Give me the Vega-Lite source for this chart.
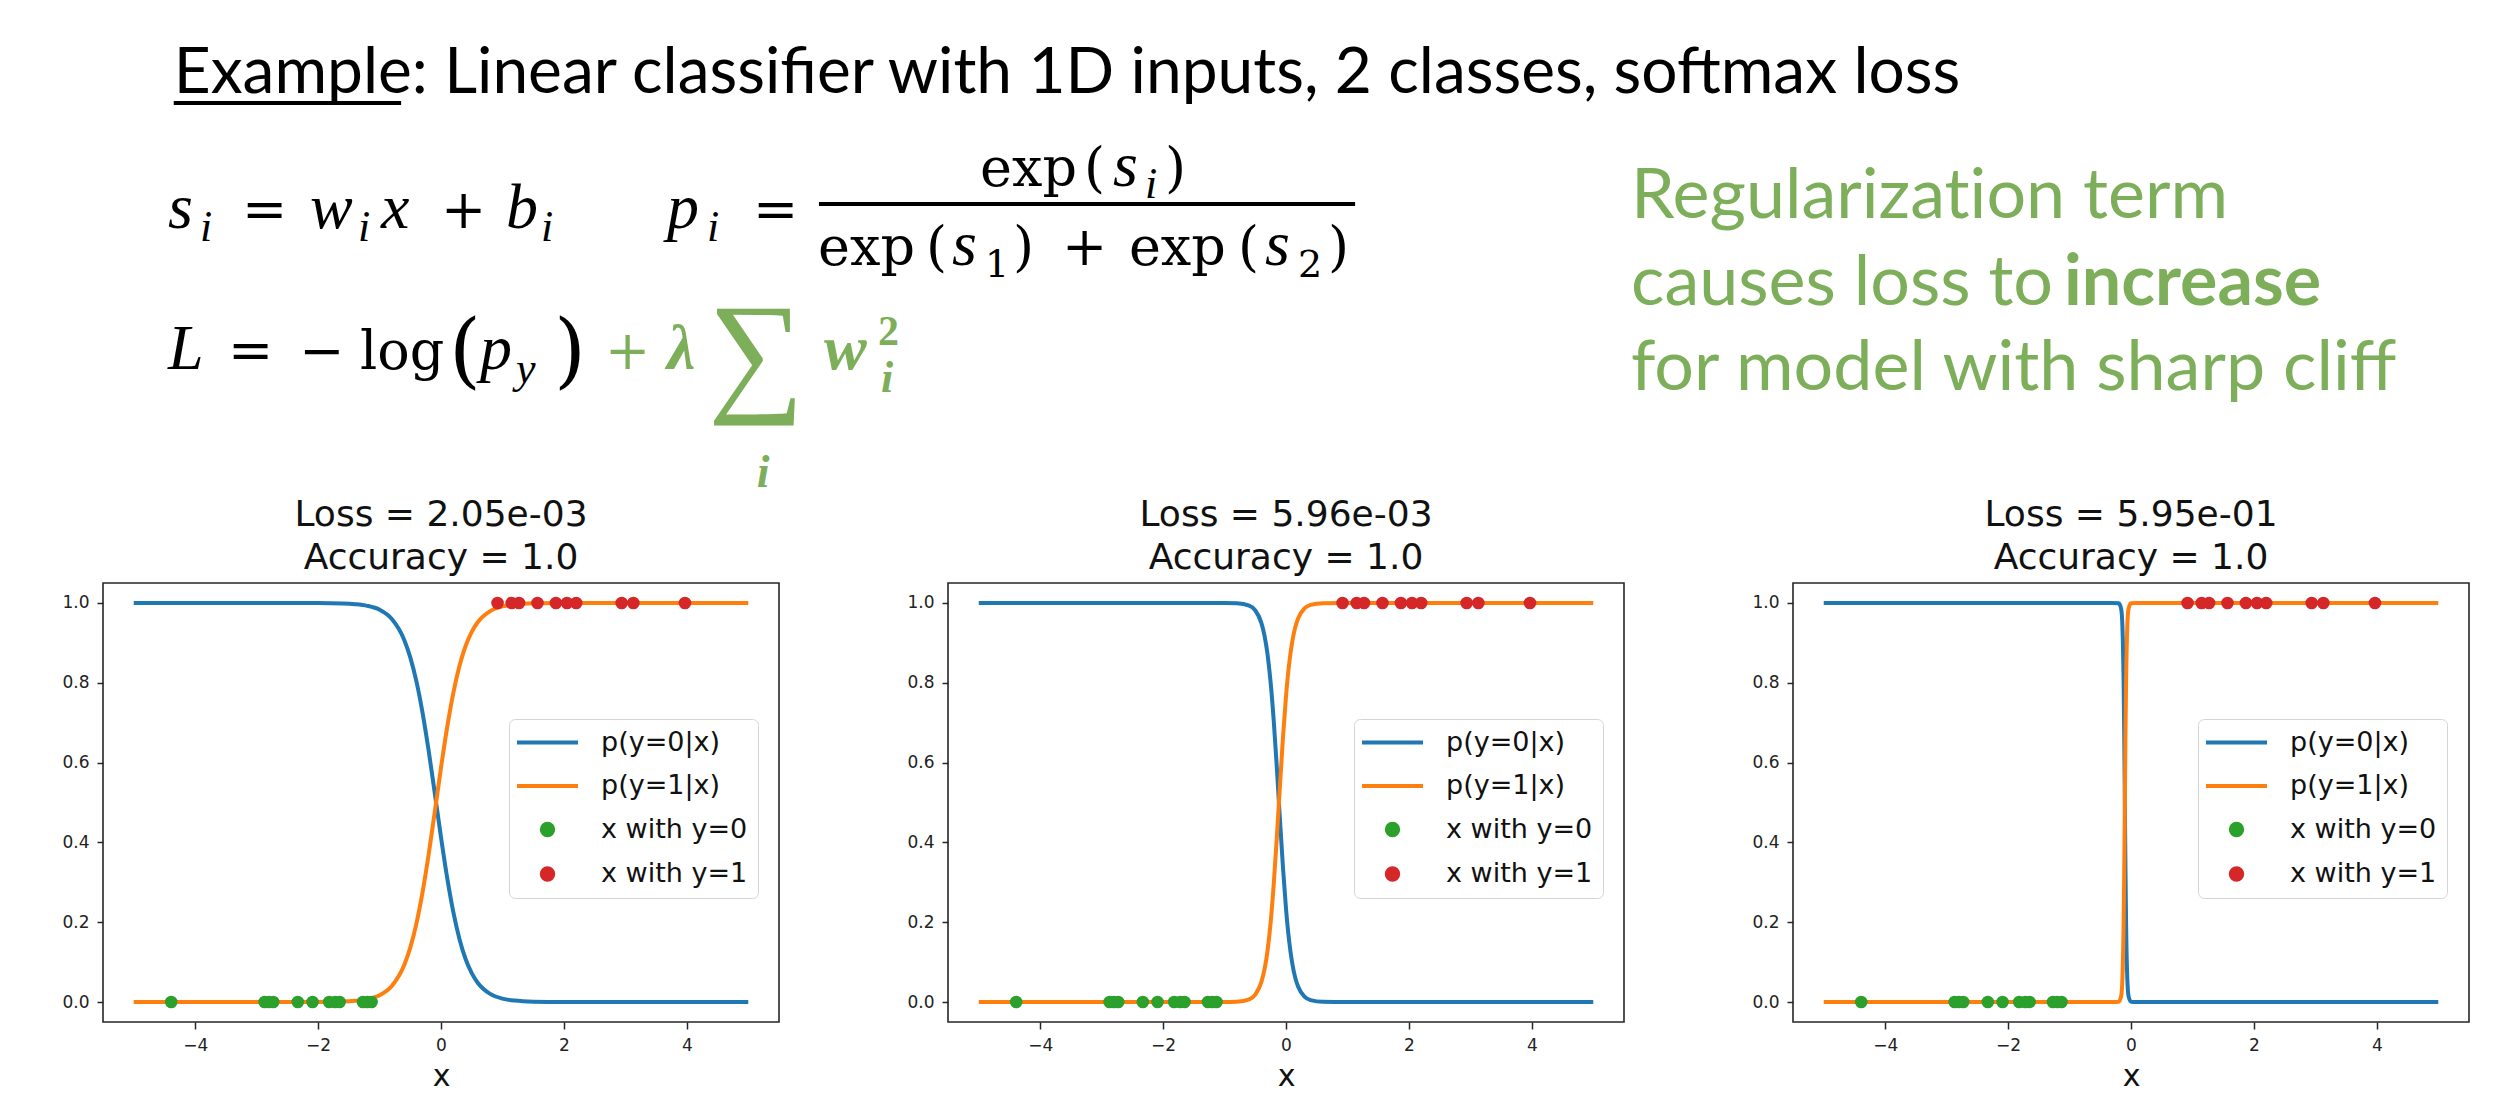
{
  "$schema": "https://vega.github.io/schema/vega-lite/v6.json",
  "background": "white",
  "padding": {"left": 61, "top": 0, "right": 0, "bottom": 0},
  "autosize": {"type": "pad"},
  "bounds": "flush",
  "spacing": 0,
  "datasets": {
    "slide": [
      {"role": "heading", "text": "Example: Linear classifier with 1D inputs, 2 classes, softmax loss", "xp": 2.99, "yp": 15.95},
      {"role": "rule", "text": "", "xp": 2.99, "xp2": 12.6, "yp": 17.67},
      {"role": "mi", "text": "s", "xp": 2.75, "yp": 39.11},
      {"role": "msub", "text": "i", "xp": 4.1, "yp": 41.34},
      {"role": "mo", "text": "=", "xp": 5.87, "yp": 39.11},
      {"role": "mi", "text": "w", "xp": 8.75, "yp": 39.11},
      {"role": "msub", "text": "i", "xp": 10.78, "yp": 41.34},
      {"role": "mi", "text": "x", "xp": 11.75, "yp": 39.11},
      {"role": "mo", "text": "+", "xp": 14.29, "yp": 39.11},
      {"role": "mi", "text": "b", "xp": 17.03, "yp": 39.11},
      {"role": "msub", "text": "i", "xp": 18.51, "yp": 41.34},
      {"role": "mi", "text": "p", "xp": 23.84, "yp": 39.11},
      {"role": "msub", "text": "i", "xp": 25.53, "yp": 41.34},
      {"role": "mo", "text": "=", "xp": 27.47, "yp": 39.11},
      {"role": "mo", "text": "exp", "xp": 37.07, "yp": 31.9},
      {"role": "mo", "text": "(", "xp": 41.46, "yp": 31.9},
      {"role": "mi", "text": "s", "xp": 42.69, "yp": 31.9},
      {"role": "msub", "text": "i", "xp": 44.04, "yp": 33.96},
      {"role": "mo", "text": ")", "xp": 44.89, "yp": 31.9},
      {"role": "rule", "text": "", "xp": 30.26, "xp2": 52.92, "yp": 34.99},
      {"role": "mo", "text": "exp", "xp": 30.22, "yp": 45.45},
      {"role": "mo", "text": "(", "xp": 34.78, "yp": 45.45},
      {"role": "mi", "text": "s", "xp": 35.88, "yp": 45.45},
      {"role": "msubn", "text": "1", "xp": 37.28, "yp": 47.51},
      {"role": "mo", "text": ")", "xp": 38.46, "yp": 45.45},
      {"role": "mo", "text": "+", "xp": 40.53, "yp": 45.45},
      {"role": "mo", "text": "exp", "xp": 43.36, "yp": 45.45},
      {"role": "mo", "text": "(", "xp": 47.97, "yp": 45.45},
      {"role": "mi", "text": "s", "xp": 49.11, "yp": 45.45},
      {"role": "msubn", "text": "2", "xp": 50.51, "yp": 47.51},
      {"role": "mo", "text": ")", "xp": 51.78, "yp": 45.45},
      {"role": "mi", "text": "L", "xp": 2.75, "yp": 63.29},
      {"role": "mo", "text": "=", "xp": 5.28, "yp": 63.29},
      {"role": "mo", "text": "−", "xp": 8.28, "yp": 63.29},
      {"role": "mo", "text": "log", "xp": 10.86, "yp": 63.29},
      {"role": "mparen", "text": "(", "xp": 14.62, "yp": 64.84},
      {"role": "mi", "text": "p", "xp": 15.93, "yp": 63.29},
      {"role": "msub", "text": "y", "xp": 17.46, "yp": 65.69},
      {"role": "mparen", "text": ")", "xp": 19.06, "yp": 64.84},
      {"role": "g-mo", "text": "+", "xp": 21.22, "yp": 63.29},
      {"role": "g-mi", "text": "λ", "xp": 23.84, "yp": 63.29},
      {"role": "g-sum", "text": "∑", "xp": 27.6, "yp": 61.06},
      {"role": "g-sub-c", "text": "i", "xp": 27.9, "yp": 83.53},
      {"role": "g-mi", "text": "w", "xp": 30.47, "yp": 63.29},
      {"role": "g-sup", "text": "2", "xp": 32.76, "yp": 59.18},
      {"role": "g-sub", "text": "i", "xp": 32.88, "yp": 67.24},
      {"role": "note", "text": "Regularizat‌ion term", "xp": 64.58, "yp": 37.39},
      {"role": "note", "text": "causes loss to", "xp": 64.58, "yp": 52.32},
      {"role": "note-bold", "text": "increase", "xp": 82.88, "yp": 52.32},
      {"role": "note", "text": "for model with sharp cliff", "xp": 64.58, "yp": 66.9}
    ],
    "samples": [
      {"series": "x with y=0", "x": -4.39, "y": 0},
      {"series": "x with y=0", "x": -2.87, "y": 0},
      {"series": "x with y=0", "x": -2.8, "y": 0},
      {"series": "x with y=0", "x": -2.73, "y": 0},
      {"series": "x with y=0", "x": -2.33, "y": 0},
      {"series": "x with y=0", "x": -2.09, "y": 0},
      {"series": "x with y=0", "x": -1.82, "y": 0},
      {"series": "x with y=0", "x": -1.72, "y": 0},
      {"series": "x with y=0", "x": -1.65, "y": 0},
      {"series": "x with y=0", "x": -1.27, "y": 0},
      {"series": "x with y=0", "x": -1.2, "y": 0},
      {"series": "x with y=0", "x": -1.13, "y": 0},
      {"series": "x with y=1", "x": 0.92, "y": 1},
      {"series": "x with y=1", "x": 1.15, "y": 1},
      {"series": "x with y=1", "x": 1.27, "y": 1},
      {"series": "x with y=1", "x": 1.57, "y": 1},
      {"series": "x with y=1", "x": 1.87, "y": 1},
      {"series": "x with y=1", "x": 2.05, "y": 1},
      {"series": "x with y=1", "x": 2.2, "y": 1},
      {"series": "x with y=1", "x": 2.94, "y": 1},
      {"series": "x with y=1", "x": 3.13, "y": 1},
      {"series": "x with y=1", "x": 3.97, "y": 1}
    ],
    "curves": [
      {"panel": 1, "series": "p(y=0|x)", "x": -5, "p": 1},
      {"panel": 1, "series": "p(y=0|x)", "x": -3, "p": 1},
      {"panel": 1, "series": "p(y=0|x)", "x": -2, "p": 0.9998},
      {"panel": 1, "series": "p(y=0|x)", "x": -1.6, "p": 0.9988},
      {"panel": 1, "series": "p(y=0|x)", "x": -1.4, "p": 0.997},
      {"panel": 1, "series": "p(y=0|x)", "x": -1.2, "p": 0.9928},
      {"panel": 1, "series": "p(y=0|x)", "x": -1.0, "p": 0.9829},
      {"panel": 1, "series": "p(y=0|x)", "x": -0.8, "p": 0.9597},
      {"panel": 1, "series": "p(y=0|x)", "x": -0.6, "p": 0.908},
      {"panel": 1, "series": "p(y=0|x)", "x": -0.5, "p": 0.8638},
      {"panel": 1, "series": "p(y=0|x)", "x": -0.4, "p": 0.8035},
      {"panel": 1, "series": "p(y=0|x)", "x": -0.3, "p": 0.7248},
      {"panel": 1, "series": "p(y=0|x)", "x": -0.2, "p": 0.629},
      {"panel": 1, "series": "p(y=0|x)", "x": -0.1, "p": 0.522},
      {"panel": 1, "series": "p(y=0|x)", "x": 0, "p": 0.4129},
      {"panel": 1, "series": "p(y=0|x)", "x": 0.1, "p": 0.3117},
      {"panel": 1, "series": "p(y=0|x)", "x": 0.2, "p": 0.2258},
      {"panel": 1, "series": "p(y=0|x)", "x": 0.3, "p": 0.1582},
      {"panel": 1, "series": "p(y=0|x)", "x": 0.4, "p": 0.1079},
      {"panel": 1, "series": "p(y=0|x)", "x": 0.5, "p": 0.0723},
      {"panel": 1, "series": "p(y=0|x)", "x": 0.6, "p": 0.0478},
      {"panel": 1, "series": "p(y=0|x)", "x": 0.8, "p": 0.0204},
      {"panel": 1, "series": "p(y=0|x)", "x": 1.0, "p": 0.0086},
      {"panel": 1, "series": "p(y=0|x)", "x": 1.2, "p": 0.0036},
      {"panel": 1, "series": "p(y=0|x)", "x": 1.5, "p": 0.001},
      {"panel": 1, "series": "p(y=0|x)", "x": 2, "p": 0.0001},
      {"panel": 1, "series": "p(y=0|x)", "x": 3, "p": 0},
      {"panel": 1, "series": "p(y=0|x)", "x": 5, "p": 0},
      {"panel": 1, "series": "p(y=1|x)", "x": -5, "p": 0},
      {"panel": 1, "series": "p(y=1|x)", "x": -3, "p": 0},
      {"panel": 1, "series": "p(y=1|x)", "x": -2, "p": 0.0002},
      {"panel": 1, "series": "p(y=1|x)", "x": -1.6, "p": 0.0012},
      {"panel": 1, "series": "p(y=1|x)", "x": -1.4, "p": 0.003},
      {"panel": 1, "series": "p(y=1|x)", "x": -1.2, "p": 0.0072},
      {"panel": 1, "series": "p(y=1|x)", "x": -1.0, "p": 0.0171},
      {"panel": 1, "series": "p(y=1|x)", "x": -0.8, "p": 0.0403},
      {"panel": 1, "series": "p(y=1|x)", "x": -0.6, "p": 0.092},
      {"panel": 1, "series": "p(y=1|x)", "x": -0.5, "p": 0.1362},
      {"panel": 1, "series": "p(y=1|x)", "x": -0.4, "p": 0.1965},
      {"panel": 1, "series": "p(y=1|x)", "x": -0.3, "p": 0.2752},
      {"panel": 1, "series": "p(y=1|x)", "x": -0.2, "p": 0.371},
      {"panel": 1, "series": "p(y=1|x)", "x": -0.1, "p": 0.478},
      {"panel": 1, "series": "p(y=1|x)", "x": 0, "p": 0.5871},
      {"panel": 1, "series": "p(y=1|x)", "x": 0.1, "p": 0.6883},
      {"panel": 1, "series": "p(y=1|x)", "x": 0.2, "p": 0.7742},
      {"panel": 1, "series": "p(y=1|x)", "x": 0.3, "p": 0.8418},
      {"panel": 1, "series": "p(y=1|x)", "x": 0.4, "p": 0.8921},
      {"panel": 1, "series": "p(y=1|x)", "x": 0.5, "p": 0.9277},
      {"panel": 1, "series": "p(y=1|x)", "x": 0.6, "p": 0.9522},
      {"panel": 1, "series": "p(y=1|x)", "x": 0.8, "p": 0.9796},
      {"panel": 1, "series": "p(y=1|x)", "x": 1.0, "p": 0.9914},
      {"panel": 1, "series": "p(y=1|x)", "x": 1.2, "p": 0.9964},
      {"panel": 1, "series": "p(y=1|x)", "x": 1.5, "p": 0.999},
      {"panel": 1, "series": "p(y=1|x)", "x": 2, "p": 0.9999},
      {"panel": 1, "series": "p(y=1|x)", "x": 3, "p": 1},
      {"panel": 1, "series": "p(y=1|x)", "x": 5, "p": 1},
      {"panel": 2, "series": "p(y=0|x)", "x": -5, "p": 1},
      {"panel": 2, "series": "p(y=0|x)", "x": -2, "p": 1},
      {"panel": 2, "series": "p(y=0|x)", "x": -1, "p": 0.9999},
      {"panel": 2, "series": "p(y=0|x)", "x": -0.8, "p": 0.9991},
      {"panel": 2, "series": "p(y=0|x)", "x": -0.6, "p": 0.9933},
      {"panel": 2, "series": "p(y=0|x)", "x": -0.5, "p": 0.9814},
      {"panel": 2, "series": "p(y=0|x)", "x": -0.4, "p": 0.9496},
      {"panel": 2, "series": "p(y=0|x)", "x": -0.35, "p": 0.9184},
      {"panel": 2, "series": "p(y=0|x)", "x": -0.3, "p": 0.8706},
      {"panel": 2, "series": "p(y=0|x)", "x": -0.25, "p": 0.8006},
      {"panel": 2, "series": "p(y=0|x)", "x": -0.2, "p": 0.7059},
      {"panel": 2, "series": "p(y=0|x)", "x": -0.15, "p": 0.5892},
      {"panel": 2, "series": "p(y=0|x)", "x": -0.1, "p": 0.4615},
      {"panel": 2, "series": "p(y=0|x)", "x": -0.05, "p": 0.3386},
      {"panel": 2, "series": "p(y=0|x)", "x": 0, "p": 0.2342},
      {"panel": 2, "series": "p(y=0|x)", "x": 0.05, "p": 0.1545},
      {"panel": 2, "series": "p(y=0|x)", "x": 0.1, "p": 0.0985},
      {"panel": 2, "series": "p(y=0|x)", "x": 0.15, "p": 0.0612},
      {"panel": 2, "series": "p(y=0|x)", "x": 0.2, "p": 0.0375},
      {"panel": 2, "series": "p(y=0|x)", "x": 0.3, "p": 0.0137},
      {"panel": 2, "series": "p(y=0|x)", "x": 0.4, "p": 0.005},
      {"panel": 2, "series": "p(y=0|x)", "x": 0.6, "p": 0.0006},
      {"panel": 2, "series": "p(y=0|x)", "x": 1, "p": 0},
      {"panel": 2, "series": "p(y=0|x)", "x": 2, "p": 0},
      {"panel": 2, "series": "p(y=0|x)", "x": 5, "p": 0},
      {"panel": 2, "series": "p(y=1|x)", "x": -5, "p": 0},
      {"panel": 2, "series": "p(y=1|x)", "x": -2, "p": 0},
      {"panel": 2, "series": "p(y=1|x)", "x": -1, "p": 0.0001},
      {"panel": 2, "series": "p(y=1|x)", "x": -0.8, "p": 0.0009},
      {"panel": 2, "series": "p(y=1|x)", "x": -0.6, "p": 0.0067},
      {"panel": 2, "series": "p(y=1|x)", "x": -0.5, "p": 0.0186},
      {"panel": 2, "series": "p(y=1|x)", "x": -0.4, "p": 0.0504},
      {"panel": 2, "series": "p(y=1|x)", "x": -0.35, "p": 0.0816},
      {"panel": 2, "series": "p(y=1|x)", "x": -0.3, "p": 0.1294},
      {"panel": 2, "series": "p(y=1|x)", "x": -0.25, "p": 0.1994},
      {"panel": 2, "series": "p(y=1|x)", "x": -0.2, "p": 0.2941},
      {"panel": 2, "series": "p(y=1|x)", "x": -0.15, "p": 0.4108},
      {"panel": 2, "series": "p(y=1|x)", "x": -0.1, "p": 0.5385},
      {"panel": 2, "series": "p(y=1|x)", "x": -0.05, "p": 0.6614},
      {"panel": 2, "series": "p(y=1|x)", "x": 0, "p": 0.7658},
      {"panel": 2, "series": "p(y=1|x)", "x": 0.05, "p": 0.8455},
      {"panel": 2, "series": "p(y=1|x)", "x": 0.1, "p": 0.9015},
      {"panel": 2, "series": "p(y=1|x)", "x": 0.15, "p": 0.9388},
      {"panel": 2, "series": "p(y=1|x)", "x": 0.2, "p": 0.9625},
      {"panel": 2, "series": "p(y=1|x)", "x": 0.3, "p": 0.9863},
      {"panel": 2, "series": "p(y=1|x)", "x": 0.4, "p": 0.995},
      {"panel": 2, "series": "p(y=1|x)", "x": 0.6, "p": 0.9994},
      {"panel": 2, "series": "p(y=1|x)", "x": 1, "p": 1},
      {"panel": 2, "series": "p(y=1|x)", "x": 2, "p": 1},
      {"panel": 2, "series": "p(y=1|x)", "x": 5, "p": 1},
      {"panel": 3, "series": "p(y=0|x)", "x": -5, "p": 1},
      {"panel": 3, "series": "p(y=0|x)", "x": -0.3, "p": 1},
      {"panel": 3, "series": "p(y=0|x)", "x": -0.2, "p": 0.9991},
      {"panel": 3, "series": "p(y=0|x)", "x": -0.16, "p": 0.9852},
      {"panel": 3, "series": "p(y=0|x)", "x": -0.14, "p": 0.9427},
      {"panel": 3, "series": "p(y=0|x)", "x": -0.12, "p": 0.8022},
      {"panel": 3, "series": "p(y=0|x)", "x": -0.11, "p": 0.6682},
      {"panel": 3, "series": "p(y=0|x)", "x": -0.1, "p": 0.5},
      {"panel": 3, "series": "p(y=0|x)", "x": -0.09, "p": 0.3318},
      {"panel": 3, "series": "p(y=0|x)", "x": -0.08, "p": 0.1978},
      {"panel": 3, "series": "p(y=0|x)", "x": -0.06, "p": 0.0573},
      {"panel": 3, "series": "p(y=0|x)", "x": -0.04, "p": 0.0148},
      {"panel": 3, "series": "p(y=0|x)", "x": 0, "p": 0.0009},
      {"panel": 3, "series": "p(y=0|x)", "x": 0.1, "p": 0},
      {"panel": 3, "series": "p(y=0|x)", "x": 5, "p": 0},
      {"panel": 3, "series": "p(y=1|x)", "x": -5, "p": 0},
      {"panel": 3, "series": "p(y=1|x)", "x": -0.3, "p": 0},
      {"panel": 3, "series": "p(y=1|x)", "x": -0.2, "p": 0.0009},
      {"panel": 3, "series": "p(y=1|x)", "x": -0.16, "p": 0.0148},
      {"panel": 3, "series": "p(y=1|x)", "x": -0.14, "p": 0.0573},
      {"panel": 3, "series": "p(y=1|x)", "x": -0.12, "p": 0.1978},
      {"panel": 3, "series": "p(y=1|x)", "x": -0.11, "p": 0.3318},
      {"panel": 3, "series": "p(y=1|x)", "x": -0.1, "p": 0.5},
      {"panel": 3, "series": "p(y=1|x)", "x": -0.09, "p": 0.6682},
      {"panel": 3, "series": "p(y=1|x)", "x": -0.08, "p": 0.8022},
      {"panel": 3, "series": "p(y=1|x)", "x": -0.06, "p": 0.9427},
      {"panel": 3, "series": "p(y=1|x)", "x": -0.04, "p": 0.9852},
      {"panel": 3, "series": "p(y=1|x)", "x": 0, "p": 0.9991},
      {"panel": 3, "series": "p(y=1|x)", "x": 0.1, "p": 1},
      {"panel": 3, "series": "p(y=1|x)", "x": 5, "p": 1}
    ]
  },
  "vconcat": [
    {
      "width": 2366,
      "height": 583,
      "view": {"stroke": null},
      "data": {"name": "slide"},
      "encoding": {
        "x": {"field": "xp", "type": "quantitative", "scale": {"domain": [0, 100], "nice": false, "zero": false}, "axis": null},
        "y": {"field": "yp", "type": "quantitative", "scale": {"domain": [0, 100], "nice": false, "zero": false, "reverse": true}, "axis": null},
        "text": {"field": "text", "type": "nominal"}
      },
      "layer": [
        {"transform": [{"filter": "datum.role === 'heading'"}], "mark": {"type": "text", "font": "Lato", "fontSize": 64, "align": "left", "baseline": "alphabetic", "color": "#000000"}},
        {"transform": [{"filter": "datum.role === 'rule'"}], "mark": {"type": "rule", "strokeWidth": 4, "color": "#000000"}, "encoding": {"x2": {"field": "xp2"}}},
        {"transform": [{"filter": "datum.role === 'mi'"}], "mark": {"type": "text", "font": "Liberation Serif", "fontStyle": "italic", "fontSize": 64, "align": "left", "baseline": "alphabetic", "color": "#000000"}},
        {"transform": [{"filter": "datum.role === 'msub'"}], "mark": {"type": "text", "font": "Liberation Serif", "fontStyle": "italic", "fontSize": 44, "align": "left", "baseline": "alphabetic", "color": "#000000"}},
        {"transform": [{"filter": "datum.role === 'msubn'"}], "mark": {"type": "text", "font": "DejaVu Serif", "fontSize": 38, "align": "left", "baseline": "alphabetic", "color": "#000000"}},
        {"transform": [{"filter": "datum.role === 'mo'"}], "mark": {"type": "text", "font": "DejaVu Serif", "fontSize": 54, "align": "left", "baseline": "alphabetic", "color": "#000000"}},
        {"transform": [{"filter": "datum.role === 'mparen'"}], "mark": {"type": "text", "font": "DejaVu Serif", "fontSize": 82, "fontWeight": 300, "align": "left", "baseline": "alphabetic", "color": "#000000"}},
        {"transform": [{"filter": "datum.role === 'g-mo'"}], "mark": {"type": "text", "font": "DejaVu Serif", "fontSize": 54, "align": "left", "baseline": "alphabetic", "color": "#7dae5a"}},
        {"transform": [{"filter": "datum.role === 'g-mi'"}], "mark": {"type": "text", "font": "Liberation Serif", "fontStyle": "italic", "fontWeight": "bold", "fontSize": 64, "align": "left", "baseline": "alphabetic", "color": "#7dae5a"}},
        {"transform": [{"filter": "datum.role === 'g-sum'"}], "mark": {"type": "text", "font": "Liberation Serif", "fontSize": 135, "align": "center", "baseline": "middle", "color": "#7dae5a"}},
        {"transform": [{"filter": "datum.role === 'g-sub'"}], "mark": {"type": "text", "font": "Liberation Serif", "fontStyle": "italic", "fontWeight": "bold", "fontSize": 44, "align": "left", "baseline": "alphabetic", "color": "#7dae5a"}},
        {"transform": [{"filter": "datum.role === 'g-sup'"}], "mark": {"type": "text", "font": "Liberation Serif", "fontWeight": "bold", "fontSize": 42, "align": "left", "baseline": "alphabetic", "color": "#7dae5a"}},
        {"transform": [{"filter": "datum.role === 'g-sub-c'"}], "mark": {"type": "text", "font": "Liberation Serif", "fontStyle": "italic", "fontWeight": "bold", "fontSize": 46, "align": "center", "baseline": "alphabetic", "color": "#7dae5a"}},
        {"transform": [{"filter": "datum.role === 'note'"}], "mark": {"type": "text", "font": "Lato", "fontSize": 70, "align": "left", "baseline": "alphabetic", "color": "#7dae5a"}},
        {"transform": [{"filter": "datum.role === 'note-bold'"}], "mark": {"type": "text", "font": "Lato", "fontWeight": "bold", "fontSize": 70, "align": "left", "baseline": "alphabetic", "color": "#7dae5a"}}
      ]
    },
    {
      "spacing": 169,
      "bounds": "flush",
      "resolve": {"scale": {"color": "shared", "shape": "shared"}, "legend": {"color": "independent", "shape": "independent"}},
      "hconcat": [
        {
          "width": 676, "height": 439,
          "title": {"text": ["Loss = 2.05e-03", "Accuracy = 1.0"]},
          "layer": [
            {
              "data": {"name": "curves"},
              "transform": [{"filter": "datum.panel === 1"}],
              "mark": {"type": "line", "strokeWidth": 4, "interpolate": "monotone"},
              "encoding": {
                "x": {"field": "x", "type": "quantitative", "title": "x", "scale": {"domain": [-5.5, 5.5], "nice": false, "zero": false}, "axis": {"values": [-4, -2, 0, 2, 4], "format": "d"}},
                "y": {"field": "p", "type": "quantitative", "title": null, "scale": {"domain": [-0.05, 1.05], "nice": false, "zero": false}, "axis": {"values": [0, 0.2, 0.4, 0.6, 0.8, 1], "format": ".1f"}},
                "color": {"field": "series", "type": "nominal",
                  "scale": {"domain": ["p(y=0|x)", "p(y=1|x)", "x with y=0", "x with y=1"], "range": ["#1f77b4", "#ff7f0e", "#2ca02c", "#d62728"]},
                  "legend": {"title": null, "orient": "none", "legendX": 406, "legendY": 136}}
              }
            },
            {
              "data": {"name": "samples"},
              "mark": {"type": "point", "filled": true, "size": 160, "opacity": 1},
              "encoding": {
                "x": {"field": "x", "type": "quantitative", "title": "x"},
                "y": {"field": "y", "type": "quantitative", "title": null},
                "color": {"field": "series", "type": "nominal", "legend": {"title": null, "orient": "none", "legendX": 406, "legendY": 136}},
                "shape": {"field": "series", "type": "nominal", "scale": {"domain": ["p(y=0|x)", "p(y=1|x)", "x with y=0", "x with y=1"], "range": ["M-5.35,0H5.35", "M-5.35,0H5.35", "circle", "circle"]}, "legend": {"title": null, "orient": "none", "legendX": 406, "legendY": 136}}
              }
            }
          ]
        },
        {
          "width": 676, "height": 439,
          "title": {"text": ["Loss = 5.96e-03", "Accuracy = 1.0"]},
          "layer": [
            {
              "data": {"name": "curves"},
              "transform": [{"filter": "datum.panel === 2"}],
              "mark": {"type": "line", "strokeWidth": 4, "interpolate": "monotone"},
              "encoding": {
                "x": {"field": "x", "type": "quantitative", "title": "x", "scale": {"domain": [-5.5, 5.5], "nice": false, "zero": false}, "axis": {"values": [-4, -2, 0, 2, 4], "format": "d"}},
                "y": {"field": "p", "type": "quantitative", "title": null, "scale": {"domain": [-0.05, 1.05], "nice": false, "zero": false}, "axis": {"values": [0, 0.2, 0.4, 0.6, 0.8, 1], "format": ".1f"}},
                "color": {"field": "series", "type": "nominal",
                  "scale": {"domain": ["p(y=0|x)", "p(y=1|x)", "x with y=0", "x with y=1"], "range": ["#1f77b4", "#ff7f0e", "#2ca02c", "#d62728"]},
                  "legend": {"title": null, "orient": "none", "legendX": 406, "legendY": 136}}
              }
            },
            {
              "data": {"name": "samples"},
              "mark": {"type": "point", "filled": true, "size": 160, "opacity": 1},
              "encoding": {
                "x": {"field": "x", "type": "quantitative", "title": "x"},
                "y": {"field": "y", "type": "quantitative", "title": null},
                "color": {"field": "series", "type": "nominal", "legend": {"title": null, "orient": "none", "legendX": 406, "legendY": 136}},
                "shape": {"field": "series", "type": "nominal", "scale": {"domain": ["p(y=0|x)", "p(y=1|x)", "x with y=0", "x with y=1"], "range": ["M-5.35,0H5.35", "M-5.35,0H5.35", "circle", "circle"]}, "legend": {"title": null, "orient": "none", "legendX": 406, "legendY": 136}}
              }
            }
          ]
        },
        {
          "width": 676, "height": 439,
          "title": {"text": ["Loss = 5.95e-01", "Accuracy = 1.0"]},
          "layer": [
            {
              "data": {"name": "curves"},
              "transform": [{"filter": "datum.panel === 3"}],
              "mark": {"type": "line", "strokeWidth": 4, "interpolate": "monotone"},
              "encoding": {
                "x": {"field": "x", "type": "quantitative", "title": "x", "scale": {"domain": [-5.5, 5.5], "nice": false, "zero": false}, "axis": {"values": [-4, -2, 0, 2, 4], "format": "d"}},
                "y": {"field": "p", "type": "quantitative", "title": null, "scale": {"domain": [-0.05, 1.05], "nice": false, "zero": false}, "axis": {"values": [0, 0.2, 0.4, 0.6, 0.8, 1], "format": ".1f"}},
                "color": {"field": "series", "type": "nominal",
                  "scale": {"domain": ["p(y=0|x)", "p(y=1|x)", "x with y=0", "x with y=1"], "range": ["#1f77b4", "#ff7f0e", "#2ca02c", "#d62728"]},
                  "legend": {"title": null, "orient": "none", "legendX": 405, "legendY": 136}}
              }
            },
            {
              "data": {"name": "samples"},
              "mark": {"type": "point", "filled": true, "size": 160, "opacity": 1},
              "encoding": {
                "x": {"field": "x", "type": "quantitative", "title": "x"},
                "y": {"field": "y", "type": "quantitative", "title": null},
                "color": {"field": "series", "type": "nominal", "legend": {"title": null, "orient": "none", "legendX": 405, "legendY": 136}},
                "shape": {"field": "series", "type": "nominal", "scale": {"domain": ["p(y=0|x)", "p(y=1|x)", "x with y=0", "x with y=1"], "range": ["M-5.35,0H5.35", "M-5.35,0H5.35", "circle", "circle"]}, "legend": {"title": null, "orient": "none", "legendX": 405, "legendY": 136}}
              }
            }
          ]
        }
      ]
    }
  ],
  "config": {
    "font": "DejaVu Sans",
    "view": {"stroke": "#262626", "strokeWidth": 1.6},
    "axis": {"labelFont": "DejaVu Sans", "labelFontSize": 17, "labelColor": "#222222", "tickColor": "#262626", "tickWidth": 1.5, "domain": false, "grid": false, "titleFont": "DejaVu Sans", "titleFontWeight": "normal", "titleColor": "#111111"},
    "axisX": {"tickSize": 7, "labelPadding": 8, "titleFontSize": 30, "titlePadding": 8},
    "axisY": {"tickSize": 6, "labelPadding": 8},
    "title": {"font": "DejaVu Sans", "fontSize": 36, "fontWeight": "normal", "color": "#111111", "lineHeight": 43, "offset": 6, "anchor": "middle"},
    "legend": {
      "labelFont": "DejaVu Sans", "labelFontSize": 27, "labelColor": "#111111",
      "padding": 10, "rowPadding": 15.5, "symbolOffset": 15, "labelOffset": 40,
      "fillColor": "rgba(255,255,255,0.85)", "strokeColor": "#d4d4d4", "cornerRadius": 6,
      "symbolSize": 130, "symbolStrokeWidth": 4,
      "symbolType": "circle",
      "encode": {
        "symbols": {"update": {
          "stroke": {"signal": "datum.value === 'p(y=0|x)' ? '#1f77b4' : datum.value === 'p(y=1|x)' ? '#ff7f0e' : 'transparent'"},
          "fill": {"signal": "datum.value === 'x with y=0' ? '#2ca02c' : datum.value === 'x with y=1' ? '#d62728' : 'transparent'"},
          "strokeWidth": {"value": 4},
          "opacity": {"value": 1}
        }}
      }
    }
  }
}
